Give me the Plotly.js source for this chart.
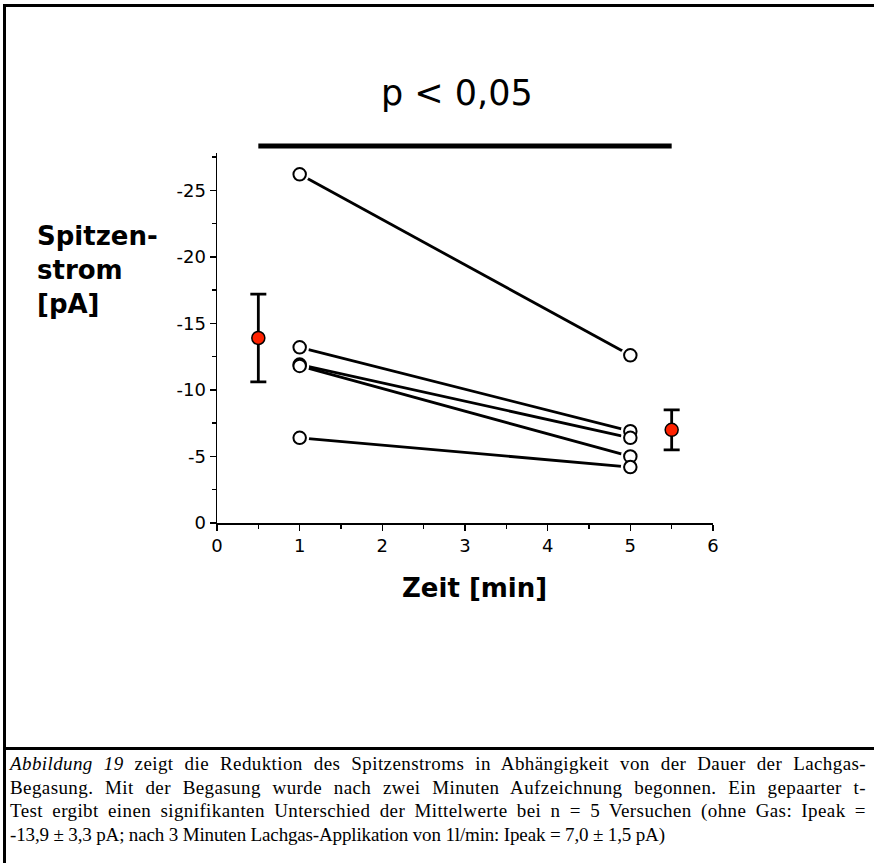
<!DOCTYPE html>
<html>
<head>
<meta charset="utf-8">
<script src="https://cdn.plot.ly/plotly-3.0.1.min.js"></script>
<style>
  html, body { margin: 0; padding: 0; background: #fff; }
  #wrap { position: relative; width: 874px; height: 863px; overflow: hidden; }
  #chart { position: absolute; left: 0; top: 0; width: 874px; height: 863px; }
  #frame { position: absolute; left: 3px; top: 4px; width: 871px; height: 859px;
           border-left: 3px solid #000; border-top: 3px solid #000; box-sizing: border-box; pointer-events: none; }
  #divider { position: absolute; left: 3px; top: 747px; width: 871px; height: 0;
             border-top: 3px solid #000; pointer-events: none; }
  #caption { position: absolute; left: 10px; top: 752px; width: 856px;
             font-family: "Liberation Serif", "Times New Roman", serif; font-size: 19px;
             line-height: 23.5px; color: #000; }
  #caption .ln { white-space: nowrap; text-align: justify; text-align-last: justify; letter-spacing: 0.4px; }
  #caption .ln.last { text-align: left; text-align-last: left; letter-spacing: -0.15px; }
</style>
</head>
<body>
<div id="wrap">
  <div id="chart"></div>
  <div id="frame"></div>
  <div id="divider"></div>
  <div id="caption">
    <div class="ln"><i>Abbildung 19</i> zeigt die Reduktion des Spitzenstroms in Abhängigkeit von der Dauer der Lachgas-</div>
    <div class="ln">Begasung. Mit der Begasung wurde nach zwei Minuten Aufzeichnung begonnen. Ein gepaarter t-</div>
    <div class="ln">Test ergibt einen signifikanten Unterschied der Mittelwerte bei n = 5 Versuchen (ohne Gas: Ipeak =</div>
    <div class="ln last">-13,9 ± 3,3 pA; nach 3 Minuten Lachgas-Applikation von 1l/min: Ipeak = 7,0 ± 1,5 pA)</div>
  </div>
</div>
<script>
// Recording times (min)
const times = [1, 5];

// Peak current per experiment (pA) at 1 min and 5 min
const exp1 = [-26.2, -12.6];
const exp2 = [-13.2, -6.9];
const exp3 = [-11.9, -6.4];
const exp4 = [-11.8, -5.0];
const exp5 = [-6.4, -4.2];
const experiments = [exp1, exp2, exp3, exp4, exp5];

// Group means with standard deviation, plotted beside the raw data
const meanX = [0.5, 5.5];
const meanY = [-13.9, -7.0];
const meanSD = [3.3, 1.5];

// Axis tick labels (plain hyphen minus)
const yTickVals = [0, -5, -10, -15, -20, -25];
const yTickText = ['0', '-5', '-10', '-15', '-20', '-25'];
const xTickVals = [0, 1, 2, 3, 4, 5, 6];
const xTickText = ['0', '1', '2', '3', '4', '5', '6'];

const FONT = 'DejaVu Sans, Arial, sans-serif';

const traces = [];

// connecting lines for each experiment
experiments.forEach(e => {
  traces.push({
    x: times, y: e, type: 'scatter', mode: 'lines',
    line: { color: '#000', width: 2.8 },
    hoverinfo: 'skip', showlegend: false
  });
});

// white halo under each open circle, giving the gap between line and symbol
const allX = [], allY = [];
experiments.forEach(e => { times.forEach((t, i) => { allX.push(t); allY.push(e[i]); }); });
traces.push({
  x: allX, y: allY, type: 'scatter', mode: 'markers',
  marker: { size: 19, color: '#fff', line: { width: 0 } },
  hoverinfo: 'skip', showlegend: false
});
// open circles
traces.push({
  x: allX, y: allY, type: 'scatter', mode: 'markers',
  marker: { size: 12.5, color: '#fff', line: { color: '#000', width: 2 } },
  showlegend: false
});

// means ± SD
traces.push({
  x: meanX, y: meanY, type: 'scatter', mode: 'markers',
  marker: { size: 13, color: '#ff2200', line: { color: '#000', width: 1.5 } },
  error_y: { type: 'data', array: meanSD, visible: true, color: '#000', thickness: 2.8, width: 8 },
  showlegend: false
});

const layout = {
  width: 874, height: 863,
  margin: { l: 217, r: 161, t: 153, b: 340 },
  paper_bgcolor: '#fff', plot_bgcolor: '#fff',
  font: { family: FONT, color: '#000' },
  showlegend: false,
  xaxis: {
    range: [0, 6], tickmode: 'array', tickvals: xTickVals, ticktext: xTickText,
    ticks: 'outside', ticklen: 6, tickwidth: 1.5, tickcolor: '#000',
    showline: true, linecolor: '#000', linewidth: 1.5, showgrid: false, zeroline: false,
    tickfont: { size: 18, family: FONT, color: '#000' },
    minor: { dtick: 0.5, tick0: 0, ticks: 'outside', ticklen: 4, tickwidth: 1.5, tickcolor: '#000', showgrid: false }
  },
  yaxis: {
    range: [0, -27.8], tickmode: 'array', tickvals: yTickVals, ticktext: yTickText,
    ticks: 'outside', ticklen: 6, tickwidth: 1.5, tickcolor: '#000',
    showline: true, linecolor: '#000', linewidth: 1.5, showgrid: false, zeroline: false,
    tickfont: { size: 18, family: FONT, color: '#000' },
    minor: { dtick: 2.5, tick0: 0, ticks: 'outside', ticklen: 4, tickwidth: 1.5, tickcolor: '#000', showgrid: false }
  },
  shapes: [
    // significance bar spanning the two group means
    { type: 'line', xref: 'x', yref: 'paper', x0: meanX[0], x1: meanX[1], y0: 1.019, y1: 1.019,
      line: { color: '#000', width: 5 } }
  ],
  annotations: [
    { text: 'p &lt; 0,05', xref: 'paper', yref: 'paper', x: 0.484, y: 1.162,
      xanchor: 'center', yanchor: 'middle', showarrow: false,
      font: { family: FONT, size: 35, color: '#000' } },
    { text: '<b>Spitzen-<br>strom<br>[pA]</b>', xref: 'paper', yref: 'paper', x: -0.367, y: 0.685,
      xanchor: 'left', yanchor: 'middle', align: 'left', showarrow: false,
      font: { family: FONT, size: 26, color: '#000' } },
    { text: '<b>Zeit [min]</b>', xref: 'paper', yref: 'paper', x: 0.52, y: -0.176,
      xanchor: 'center', yanchor: 'middle', showarrow: false,
      font: { family: FONT, size: 26, color: '#000' } }
  ]
};

Plotly.newPlot('chart', traces, layout, { staticPlot: true, displayModeBar: false });
</script>
</body>
</html>
